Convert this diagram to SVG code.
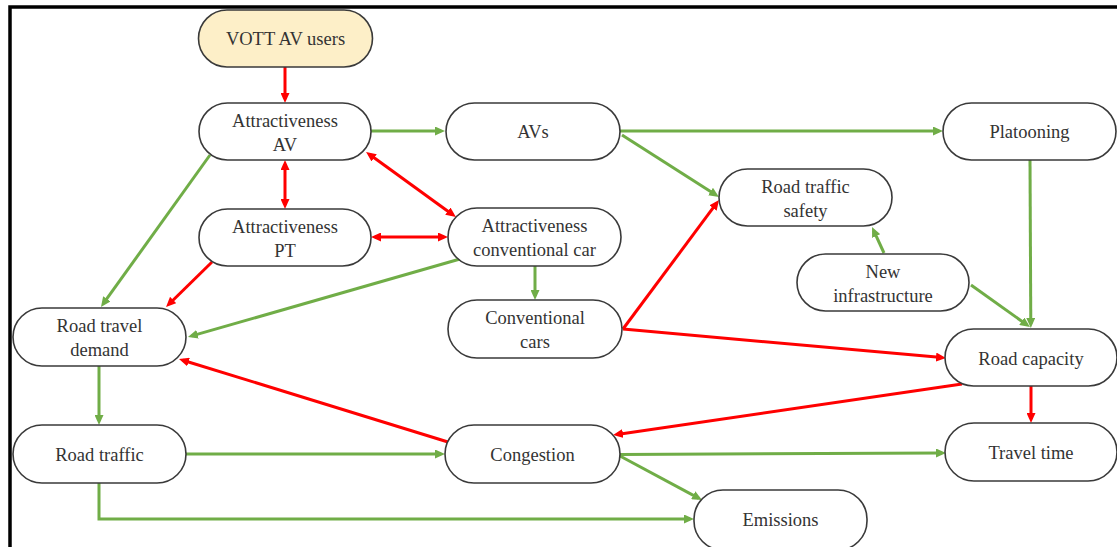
<svg xmlns="http://www.w3.org/2000/svg" width="1117" height="547" viewBox="0 0 1117 547">
<style>
.n rect{fill:#fff;stroke:#3a3a3a;stroke-width:1.6}
.n text{fill:#333;text-anchor:middle}
.g{fill:none;stroke:#70AD47;stroke-width:3}
.r{fill:none;stroke:#FF0000;stroke-width:3}
.g.a{marker-end:url(#ag)}
.r.a{marker-end:url(#ar)}
.r.b{marker-start:url(#ar);marker-end:url(#ar)}
</style>
<defs>
<marker id="ag" markerUnits="userSpaceOnUse" markerWidth="11" markerHeight="9" refX="6" refY="4.5" orient="auto-start-reverse"><path d="M0,0 L10,4.5 L0,9 z" fill="#70AD47"/></marker>
<marker id="ar" markerUnits="userSpaceOnUse" markerWidth="11" markerHeight="9" refX="6" refY="4.5" orient="auto-start-reverse"><path d="M0,0 L10,4.5 L0,9 z" fill="#FF0000"/></marker>
</defs>
<rect width="1117" height="547" fill="#fff"/>
<path d="M10,547 V7 H1117" fill="none" stroke="#000" stroke-width="3.5"/>
<g id="connectors">
<path class="r a" d="M285,67 L285,99"/>
<path class="r b" d="M285,164 L285,205"/>
<path class="r b" d="M369.3,154.3 L452.7,214.7"/>
<path class="r b" d="M375,237 L444,237"/>
<path class="g a" d="M371,131 L441,131"/>
<path class="g a" d="M210,155 L103.3,303.7"/>
<path class="r a" d="M212,262 L168.9,304.2"/>
<path class="g a" d="M460,259 L191.8,335.9"/>
<path class="g a" d="M535,266 L535,296"/>
<path class="g a" d="M620,131 L939,131"/>
<path class="g a" d="M622,135 L715.6,194.8"/>
<path class="r a" d="M623,329 L716.6,203.2"/>
<path class="r a" d="M623,329 L942,357.6"/>
<path class="g a" d="M1030,160 L1030.8,324"/>
<path class="g a" d="M884,253 L873.7,230.6"/>
<path class="g a" d="M971,285 L1026.7,324.7"/>
<path class="r a" d="M962,384 L617,434.4"/>
<path class="r a" d="M1031,386 L1031,419"/>
<path class="r a" d="M448,442 L182.8,360.2"/>
<path class="g a" d="M99,366 L99,421"/>
<path class="g a" d="M186,454 L441,454"/>
<path class="g a" d="M99,483 L99,519 L690,519"/>
<path class="g a" d="M620,454.5 L942,453"/>
<path class="g a" d="M620,456 L698.5,498.1"/>
</g>
<g id="nodes" font-family="Liberation Serif, serif" font-size="18.5">
<g id="n-vott" class="n"><rect x="198.5" y="10" width="174" height="57" rx="28.5" style="fill:#FDEFC8"/><text x="285.5" y="45">VOTT AV users</text></g>
<g id="n-attav" class="n"><rect x="199" y="103" width="172" height="57" rx="28.5"/><text x="285" y="127">Attractiveness</text><text x="285" y="151">AV</text></g>
<g id="n-avs" class="n"><rect x="446" y="103" width="174" height="57" rx="28.5"/><text x="533" y="138">AVs</text></g>
<g id="n-platooning" class="n"><rect x="943" y="103" width="173" height="57" rx="28.5"/><text x="1029.5" y="138">Platooning</text></g>
<g id="n-safety" class="n"><rect x="719" y="169" width="173" height="57" rx="28.5"/><text x="805.5" y="193">Road traffic</text><text x="805.5" y="217">safety</text></g>
<g id="n-attpt" class="n"><rect x="199" y="209" width="172" height="57" rx="28.5"/><text x="285" y="233">Attractiveness</text><text x="285" y="257">PT</text></g>
<g id="n-attcc" class="n"><rect x="448" y="208" width="173" height="58" rx="29"/><text x="534.5" y="232">Attractiveness</text><text x="534.5" y="256">conventional car</text></g>
<g id="n-newinfra" class="n"><rect x="797" y="254" width="172" height="57" rx="28.5"/><text x="883" y="278">New</text><text x="883" y="302">infrastructure</text></g>
<g id="n-rtd" class="n"><rect x="13" y="308" width="173" height="58" rx="29"/><text x="99.5" y="332">Road travel</text><text x="99.5" y="356">demand</text></g>
<g id="n-convcars" class="n"><rect x="448" y="300" width="174" height="58" rx="29"/><text x="535" y="324">Conventional</text><text x="535" y="348">cars</text></g>
<g id="n-roadcap" class="n"><rect x="945" y="329" width="172" height="57" rx="28.5"/><text x="1031" y="365">Road capacity</text></g>
<g id="n-roadtraffic" class="n"><rect x="13" y="425" width="173" height="58" rx="29"/><text x="99.5" y="461">Road traffic</text></g>
<g id="n-congestion" class="n"><rect x="445" y="425" width="175" height="58" rx="29"/><text x="532.5" y="461">Congestion</text></g>
<g id="n-traveltime" class="n"><rect x="945" y="423" width="172" height="58" rx="29"/><text x="1031" y="459">Travel time</text></g>
<g id="n-emissions" class="n"><rect x="694" y="490" width="173" height="60" rx="29"/><text x="780.5" y="526">Emissions</text></g>
</g>
</svg>
